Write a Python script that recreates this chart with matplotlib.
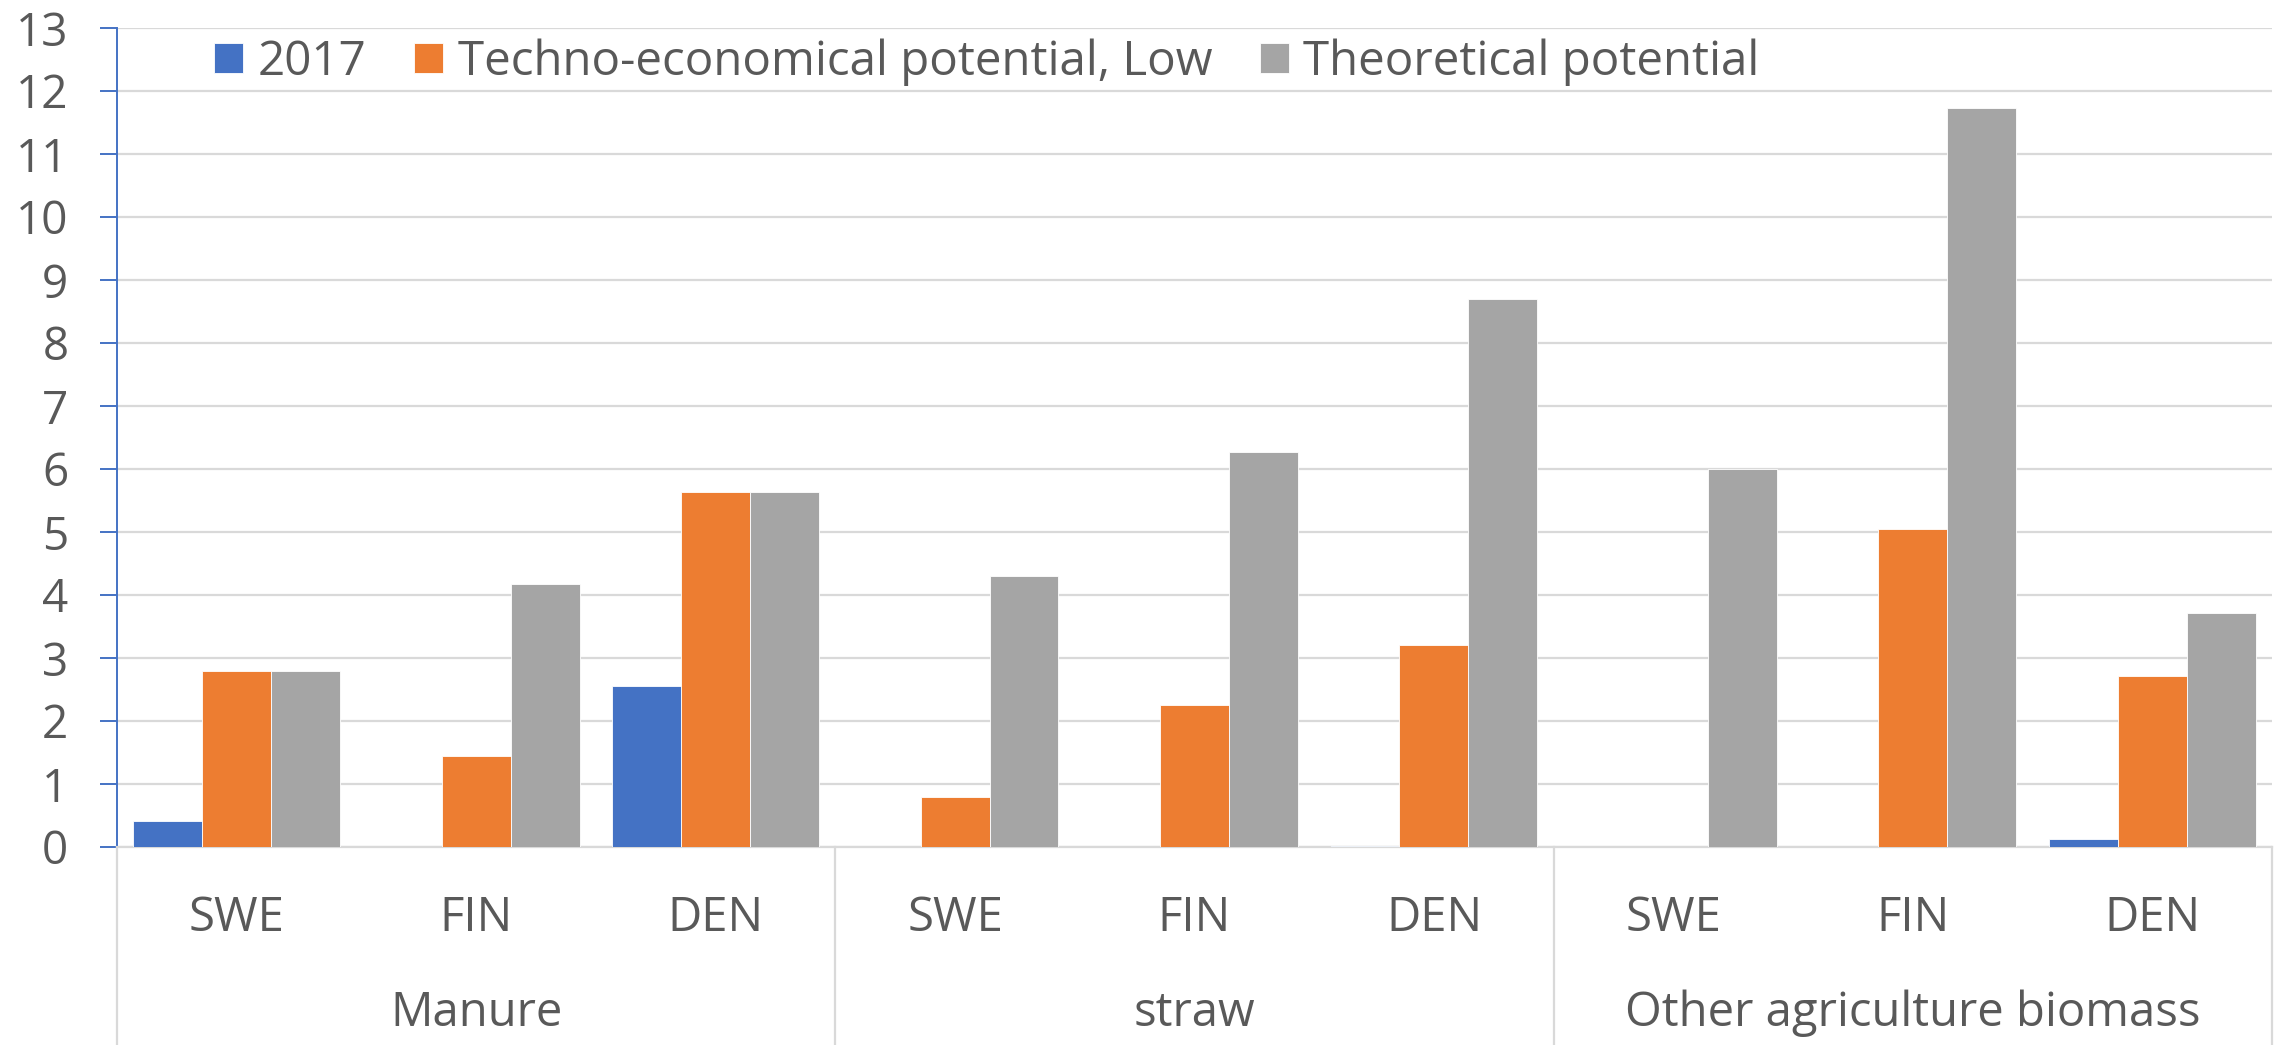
import numpy as np
import matplotlib.pyplot as plt
from matplotlib.lines import Line2D

plt.rcParams['font.family'] = ['Open Sans', 'DejaVu Sans']

groups = ['Manure', 'straw', 'Other agriculture biomass']
countries = ['SWE', 'FIN', 'DEN']
series_names = ['2017', 'Techno-economical potential, Low', 'Theoretical potential']

# values in group order: Manure SWE/FIN/DEN, straw SWE/FIN/DEN, Other SWE/FIN/DEN
val_2017 = [0.41, 0.0, 2.55, 0.0, 0.0, 0.02, 0.0, 0.0, 0.12]
val_low = [2.80, 1.45, 5.63, 0.80, 2.25, 3.20, 0.0, 5.05, 2.72]
val_theo = [2.80, 4.17, 5.63, 4.30, 6.27, 8.70, 6.00, 11.73, 3.72]

colors = ['#4472C4', '#ED7D31', '#A5A5A5']
txt = '#595959'
grid_c = '#D9D9D9'

W, H = 2280, 1045
fig = plt.figure(figsize=(W / 100, H / 100), dpi=100)
x0, x1, y0, y1 = 117, 2272, 847, 28
ax = fig.add_axes([x0 / W, (H - y0) / H, (x1 - x0) / W, (y0 - y1) / H])

x = np.arange(len(val_theo))
bw = 0.288
for i, vals in enumerate([val_2017, val_low, val_theo]):
    ax.bar(x + (i - 1) * bw, vals, width=bw, color=colors[i], label=series_names[i],
           edgecolor='white', linewidth=0.6, zorder=3)

ax.set_xlim(-0.5, len(x) - 0.5)
ax.set_ylim(0, 13)
ax.set_yticks(range(0, 14))
ax.yaxis.grid(True, color=grid_c, lw=1.6, zorder=0)
ax.set_xticks([])

for s in ['top', 'right']:
    ax.spines[s].set_visible(False)
ax.spines['left'].set_color('#4472C4')
ax.spines['left'].set_linewidth(1.4)
ax.spines['bottom'].set_color(grid_c)
ax.spines['bottom'].set_linewidth(1.6)
ax.tick_params(axis='y', length=12, width=1.4, color='#4472C4', pad=23,
               labelsize=33, labelcolor=txt)

# two-level category axis
tr = ax.get_xaxis_transform()
for k, c in enumerate(countries * len(groups)):
    ax.text(x[k], -0.087, c, transform=tr, ha='center', va='center',
            fontsize=34, color=txt)
for g, name in enumerate(groups):
    ax.text(g * 3 + 1, -0.203, name, transform=tr, ha='center', va='center',
            fontsize=34, color=txt)
for b in [-0.5, 2.5, 5.5, 8.5]:
    ax.add_line(Line2D([b, b], [0, -0.26], transform=tr, color=grid_c,
                       lw=1.6, clip_on=False))

leg = ax.legend(loc='center left', bbox_to_anchor=(214 / W, 1 - 62 / H),
                bbox_transform=fig.transFigure, ncol=3, frameon=False,
                fontsize=34.2, labelcolor=txt, handlelength=0.62, handleheight=0.62,
                handletextpad=0.3, columnspacing=1.0, borderpad=0, borderaxespad=0)

fig.savefig('out.png', dpi=100, facecolor='white')
